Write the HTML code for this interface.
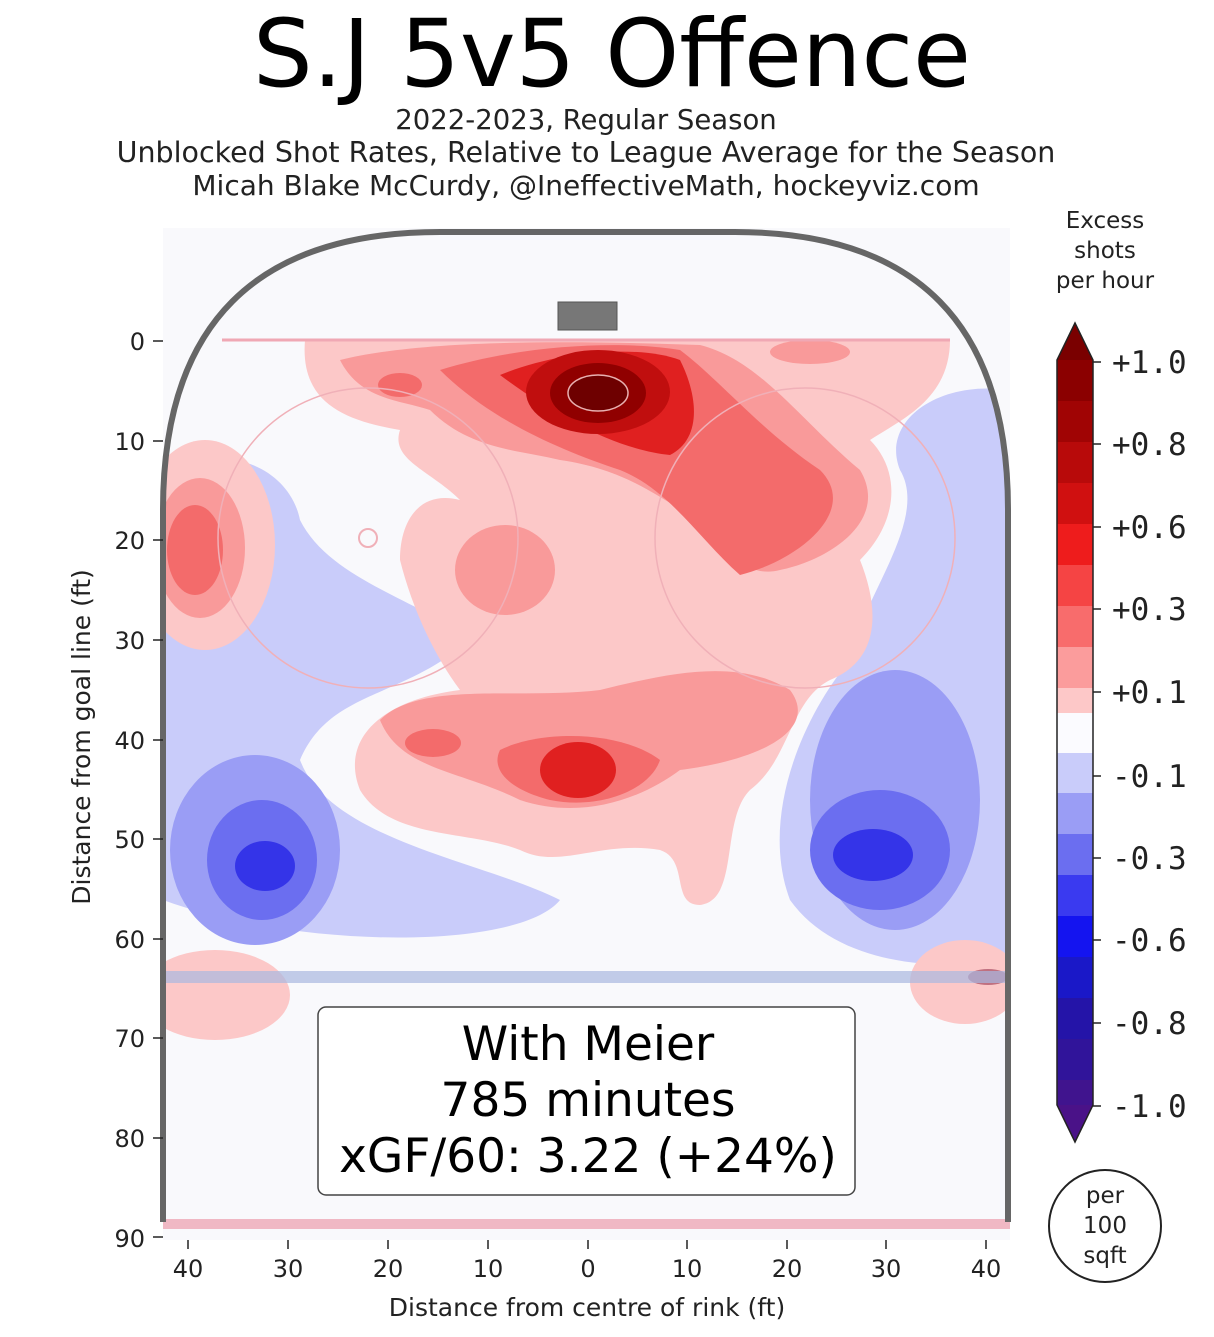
<!DOCTYPE html>
<html><head><meta charset="utf-8"><style>
body{margin:0;background:#fff;}
svg text{font-family:"DejaVu Sans","Liberation Sans",sans-serif;}
svg text.mono{font-family:"DejaVu Sans Mono","Liberation Mono",monospace;}
</style></head><body>
<svg width="1214" height="1332" viewBox="0 0 1214 1332" xmlns="http://www.w3.org/2000/svg">
<text x="612" y="86" font-size="94" text-anchor="middle" fill="#000">S.J 5v5 Offence</text>
<text x="586" y="129" font-size="27.5" text-anchor="middle" fill="#222">2022-2023, Regular Season</text>
<text x="586" y="162" font-size="28.5" text-anchor="middle" fill="#222">Unblocked Shot Rates, Relative to League Average for the Season</text>
<text x="586" y="195" font-size="28" text-anchor="middle" fill="#222">Micah Blake McCurdy, @IneffectiveMath, hockeyviz.com</text>
<defs><clipPath id="rk"><path d="M163 1222 V510 Q163 232 440 232 H735 Q1008 232 1008 510 V1222 Z"/></clipPath></defs>
<rect x="163" y="228" width="847" height="1012" fill="#f9f9fc"/>
<g clip-path="url(#rk)">
<path d="M163 470 C230 440 290 470 300 520 C330 580 420 600 470 640 C400 700 330 690 300 760 C330 840 480 860 560 900 C520 950 300 950 163 900 Z" fill="#c9ccfa"/>
<path d="M1008 390 C940 380 880 420 900 470 C930 520 860 600 850 660 C800 720 760 820 790 900 C840 970 950 970 1008 960 Z" fill="#c9ccfa"/>
<ellipse cx="605" cy="540" rx="55" ry="45" fill="#c9ccfa"/>
<ellipse cx="605" cy="540" rx="22" ry="15" fill="#8f93f5"/>
<ellipse cx="255" cy="850" rx="85" ry="95" fill="#9a9df5"/>
<ellipse cx="262" cy="860" rx="55" ry="60" fill="#6b6ef0"/>
<ellipse cx="265" cy="866" rx="30" ry="25" fill="#3434e8"/>
<ellipse cx="895" cy="800" rx="85" ry="130" fill="#9a9df5"/>
<ellipse cx="880" cy="850" rx="70" ry="60" fill="#6b6ef0"/>
<ellipse cx="873" cy="855" rx="40" ry="26" fill="#3434e8"/>
<path d="M305 340 H950 C950 400 900 420 870 440 C900 470 900 520 860 560 C880 610 880 660 830 680 C790 700 790 760 750 790 C720 820 740 900 700 905 C670 905 690 860 660 850 C600 840 560 870 520 850 C470 830 390 840 360 790 C340 740 380 700 460 690 C430 650 410 600 400 560 C400 520 420 490 460 500 C430 470 390 460 400 430 C340 420 300 400 305 340Z" fill="#fcc8c8"/>
<path d="M340 360 C420 340 560 340 700 345 C760 360 800 420 860 470 C890 520 830 560 780 570 C740 580 720 540 700 520 C660 500 630 470 560 460 C520 450 470 450 430 410 C400 400 360 400 340 360Z" fill="#f99a9a"/>
<path d="M440 370 C520 345 620 340 680 350 C720 380 760 430 820 470 C860 510 800 560 740 575 C700 540 670 490 620 470 C560 450 490 420 440 370Z" fill="#f36b6b"/>
<path d="M500 375 C560 350 640 345 680 360 C700 400 700 440 670 455 C620 450 560 420 500 375Z" fill="#e02020"/>
<ellipse cx="598" cy="392" rx="72" ry="42" fill="#c00e0e"/>
<ellipse cx="598" cy="393" rx="48" ry="30" fill="#900000"/>
<ellipse cx="598" cy="393" rx="30" ry="18" fill="#6e0000" stroke="#e8b0b0" stroke-width="1.5"/>
<ellipse cx="810" cy="352" rx="40" ry="12" fill="#f99a9a"/>
<ellipse cx="400" cy="385" rx="22" ry="12" fill="#f36b6b"/>
<ellipse cx="205" cy="545" rx="70" ry="105" fill="#fcc8c8"/>
<ellipse cx="200" cy="548" rx="45" ry="70" fill="#f99a9a"/>
<ellipse cx="195" cy="550" rx="28" ry="45" fill="#f36b6b"/>
<ellipse cx="505" cy="570" rx="50" ry="45" fill="#f99a9a"/>
<path d="M380 720 C420 680 520 700 600 690 C680 670 740 660 790 690 C820 730 760 760 680 770 C640 800 580 820 520 800 C460 770 400 770 380 720Z" fill="#f99a9a"/>
<path d="M500 750 C540 730 620 730 660 760 C650 790 600 810 550 800 C510 790 490 770 500 750Z" fill="#f36b6b"/>
<ellipse cx="578" cy="770" rx="38" ry="28" fill="#e02020"/>
<ellipse cx="433" cy="743" rx="28" ry="14" fill="#f36b6b"/>
<ellipse cx="215" cy="995" rx="75" ry="45" fill="#fcc8c8"/>
<ellipse cx="965" cy="982" rx="55" ry="42" fill="#fcc8c8"/>
<ellipse cx="988" cy="977" rx="20" ry="8" fill="#c07080"/>
<circle cx="368" cy="538" r="150" fill="none" stroke="#f0b0b8" stroke-width="1.5"/>
<circle cx="805" cy="538" r="150" fill="none" stroke="#f0b0b8" stroke-width="1.5"/>
<circle cx="368" cy="538" r="9" fill="none" stroke="#f0b0b8" stroke-width="2"/>
<rect x="163" y="971" width="847" height="12" fill="#aab8e0" opacity="0.7"/>
<line x1="222" y1="340" x2="950" y2="340" stroke="#f0a8b4" stroke-width="3"/>
</g>
<rect x="163" y="1219" width="847" height="10" fill="#f0b8c4"/>
<rect x="558" y="302" width="59" height="28" fill="#777" stroke="#555"/>
<path d="M163 1222 V510 Q163 232 440 232 H735 Q1008 232 1008 510 V1222" fill="none" stroke="#666" stroke-width="6"/>
<rect x="318" y="1007" width="537" height="188" rx="8" fill="#fff" stroke="#444" stroke-width="1.5"/>
<text x="588" y="1060" font-size="47" text-anchor="middle">With Meier</text>
<text x="588" y="1116" font-size="47" text-anchor="middle">785 minutes</text>
<text x="588" y="1172" font-size="47" text-anchor="middle">xGF/60: 3.22 (+24%)</text>
<g font-size="24" text-anchor="end" fill="#222">
<text x="145" y="350">0</text><text x="145" y="450">10</text><text x="145" y="549">20</text><text x="145" y="649">30</text><text x="145" y="749">40</text><text x="145" y="848">50</text><text x="145" y="948">60</text><text x="145" y="1047">70</text><text x="145" y="1147">80</text><text x="145" y="1247">90</text>
</g>
<g stroke="#222" stroke-width="1.5">
<line x1="153" y1="341" x2="163" y2="341"/><line x1="153" y1="441" x2="163" y2="441"/><line x1="153" y1="540" x2="163" y2="540"/><line x1="153" y1="640" x2="163" y2="640"/><line x1="153" y1="740" x2="163" y2="740"/><line x1="153" y1="839" x2="163" y2="839"/><line x1="153" y1="939" x2="163" y2="939"/><line x1="153" y1="1038" x2="163" y2="1038"/><line x1="153" y1="1138" x2="163" y2="1138"/><line x1="153" y1="1237" x2="163" y2="1237"/>
<line x1="188" y1="1240" x2="188" y2="1249"/><line x1="288" y1="1240" x2="288" y2="1249"/><line x1="388" y1="1240" x2="388" y2="1249"/><line x1="488" y1="1240" x2="488" y2="1249"/><line x1="588" y1="1240" x2="588" y2="1249"/><line x1="687" y1="1240" x2="687" y2="1249"/><line x1="787" y1="1240" x2="787" y2="1249"/><line x1="886" y1="1240" x2="886" y2="1249"/><line x1="986" y1="1240" x2="986" y2="1249"/>
</g>
<text transform="translate(90,737) rotate(-90)" font-size="25" text-anchor="middle" fill="#222">Distance from goal line (ft)</text>
<g font-size="24" text-anchor="middle" fill="#222">
<text x="188" y="1277">40</text><text x="288" y="1277">30</text><text x="388" y="1277">20</text><text x="488" y="1277">10</text><text x="588" y="1277">0</text><text x="687" y="1277">10</text><text x="787" y="1277">20</text><text x="886" y="1277">30</text><text x="986" y="1277">40</text>
</g>
<text x="587" y="1316" font-size="25" text-anchor="middle" fill="#222">Distance from centre of rink (ft)</text>
<g font-size="23" text-anchor="middle" fill="#222">
<text x="1105" y="228">Excess</text><text x="1105" y="258">shots</text><text x="1105" y="288">per hour</text>
</g>
<polygon points="1057,360 1075,323 1093,360" fill="#7a0000"/>
<rect x="1057" y="360" width="36" height="42" fill="#8b0000"/>
<rect x="1057" y="401" width="36" height="42" fill="#a00404"/>
<rect x="1057" y="442" width="36" height="42" fill="#b80a0a"/>
<rect x="1057" y="483" width="36" height="42" fill="#d01010"/>
<rect x="1057" y="524" width="36" height="42" fill="#ee1c1c"/>
<rect x="1057" y="565" width="36" height="42" fill="#f54444"/>
<rect x="1057" y="606" width="36" height="42" fill="#f86c6c"/>
<rect x="1057" y="647" width="36" height="42" fill="#fb9c9c"/>
<rect x="1057" y="688" width="36" height="25" fill="#fdc8c8"/>
<rect x="1057" y="713" width="36" height="40" fill="#fbfbff"/>
<rect x="1057" y="753" width="36" height="40" fill="#c9ccfa"/>
<rect x="1057" y="793" width="36" height="41" fill="#9a9df5"/>
<rect x="1057" y="834" width="36" height="41" fill="#6b6ef0"/>
<rect x="1057" y="875" width="36" height="41" fill="#3a3af0"/>
<rect x="1057" y="916" width="36" height="41" fill="#1414f0"/>
<rect x="1057" y="957" width="36" height="41" fill="#1a18c8"/>
<rect x="1057" y="998" width="36" height="41" fill="#2414a8"/>
<rect x="1057" y="1039" width="36" height="41" fill="#30149a"/>
<rect x="1057" y="1080" width="36" height="26" fill="#40148e"/>
<polygon points="1057,1105 1075,1142 1093,1105" fill="#4a1288"/>
<path d="M1057 360 L1075 323 L1093 360 V1105 L1075 1142 L1057 1105 Z" fill="none" stroke="#222" stroke-width="1.5"/>
<g stroke="#222" stroke-width="1.5">
<line x1="1093" y1="362" x2="1101" y2="362"/><line x1="1093" y1="444" x2="1101" y2="444"/><line x1="1093" y1="527" x2="1101" y2="527"/><line x1="1093" y1="609" x2="1101" y2="609"/><line x1="1093" y1="692" x2="1101" y2="692"/><line x1="1093" y1="776" x2="1101" y2="776"/><line x1="1093" y1="858" x2="1101" y2="858"/><line x1="1093" y1="940" x2="1101" y2="940"/><line x1="1093" y1="1023" x2="1101" y2="1023"/><line x1="1093" y1="1106" x2="1101" y2="1106"/>
</g>
<g font-size="31" fill="#222">
<text class="mono" x="1112" y="373">+1.0</text><text class="mono" x="1112" y="455">+0.8</text><text class="mono" x="1112" y="538">+0.6</text><text class="mono" x="1112" y="620">+0.3</text><text class="mono" x="1112" y="703">+0.1</text><text class="mono" x="1112" y="787">-0.1</text><text class="mono" x="1112" y="869">-0.3</text><text class="mono" x="1112" y="951">-0.6</text><text class="mono" x="1112" y="1034">-0.8</text><text class="mono" x="1112" y="1117">-1.0</text>
</g>
<circle cx="1105" cy="1226" r="56" fill="#fff" stroke="#222" stroke-width="2"/>
<g font-size="23" text-anchor="middle" fill="#222">
<text x="1105" y="1203">per</text><text x="1105" y="1233">100</text><text x="1105" y="1263">sqft</text>
</g>
</svg>
</body></html>
